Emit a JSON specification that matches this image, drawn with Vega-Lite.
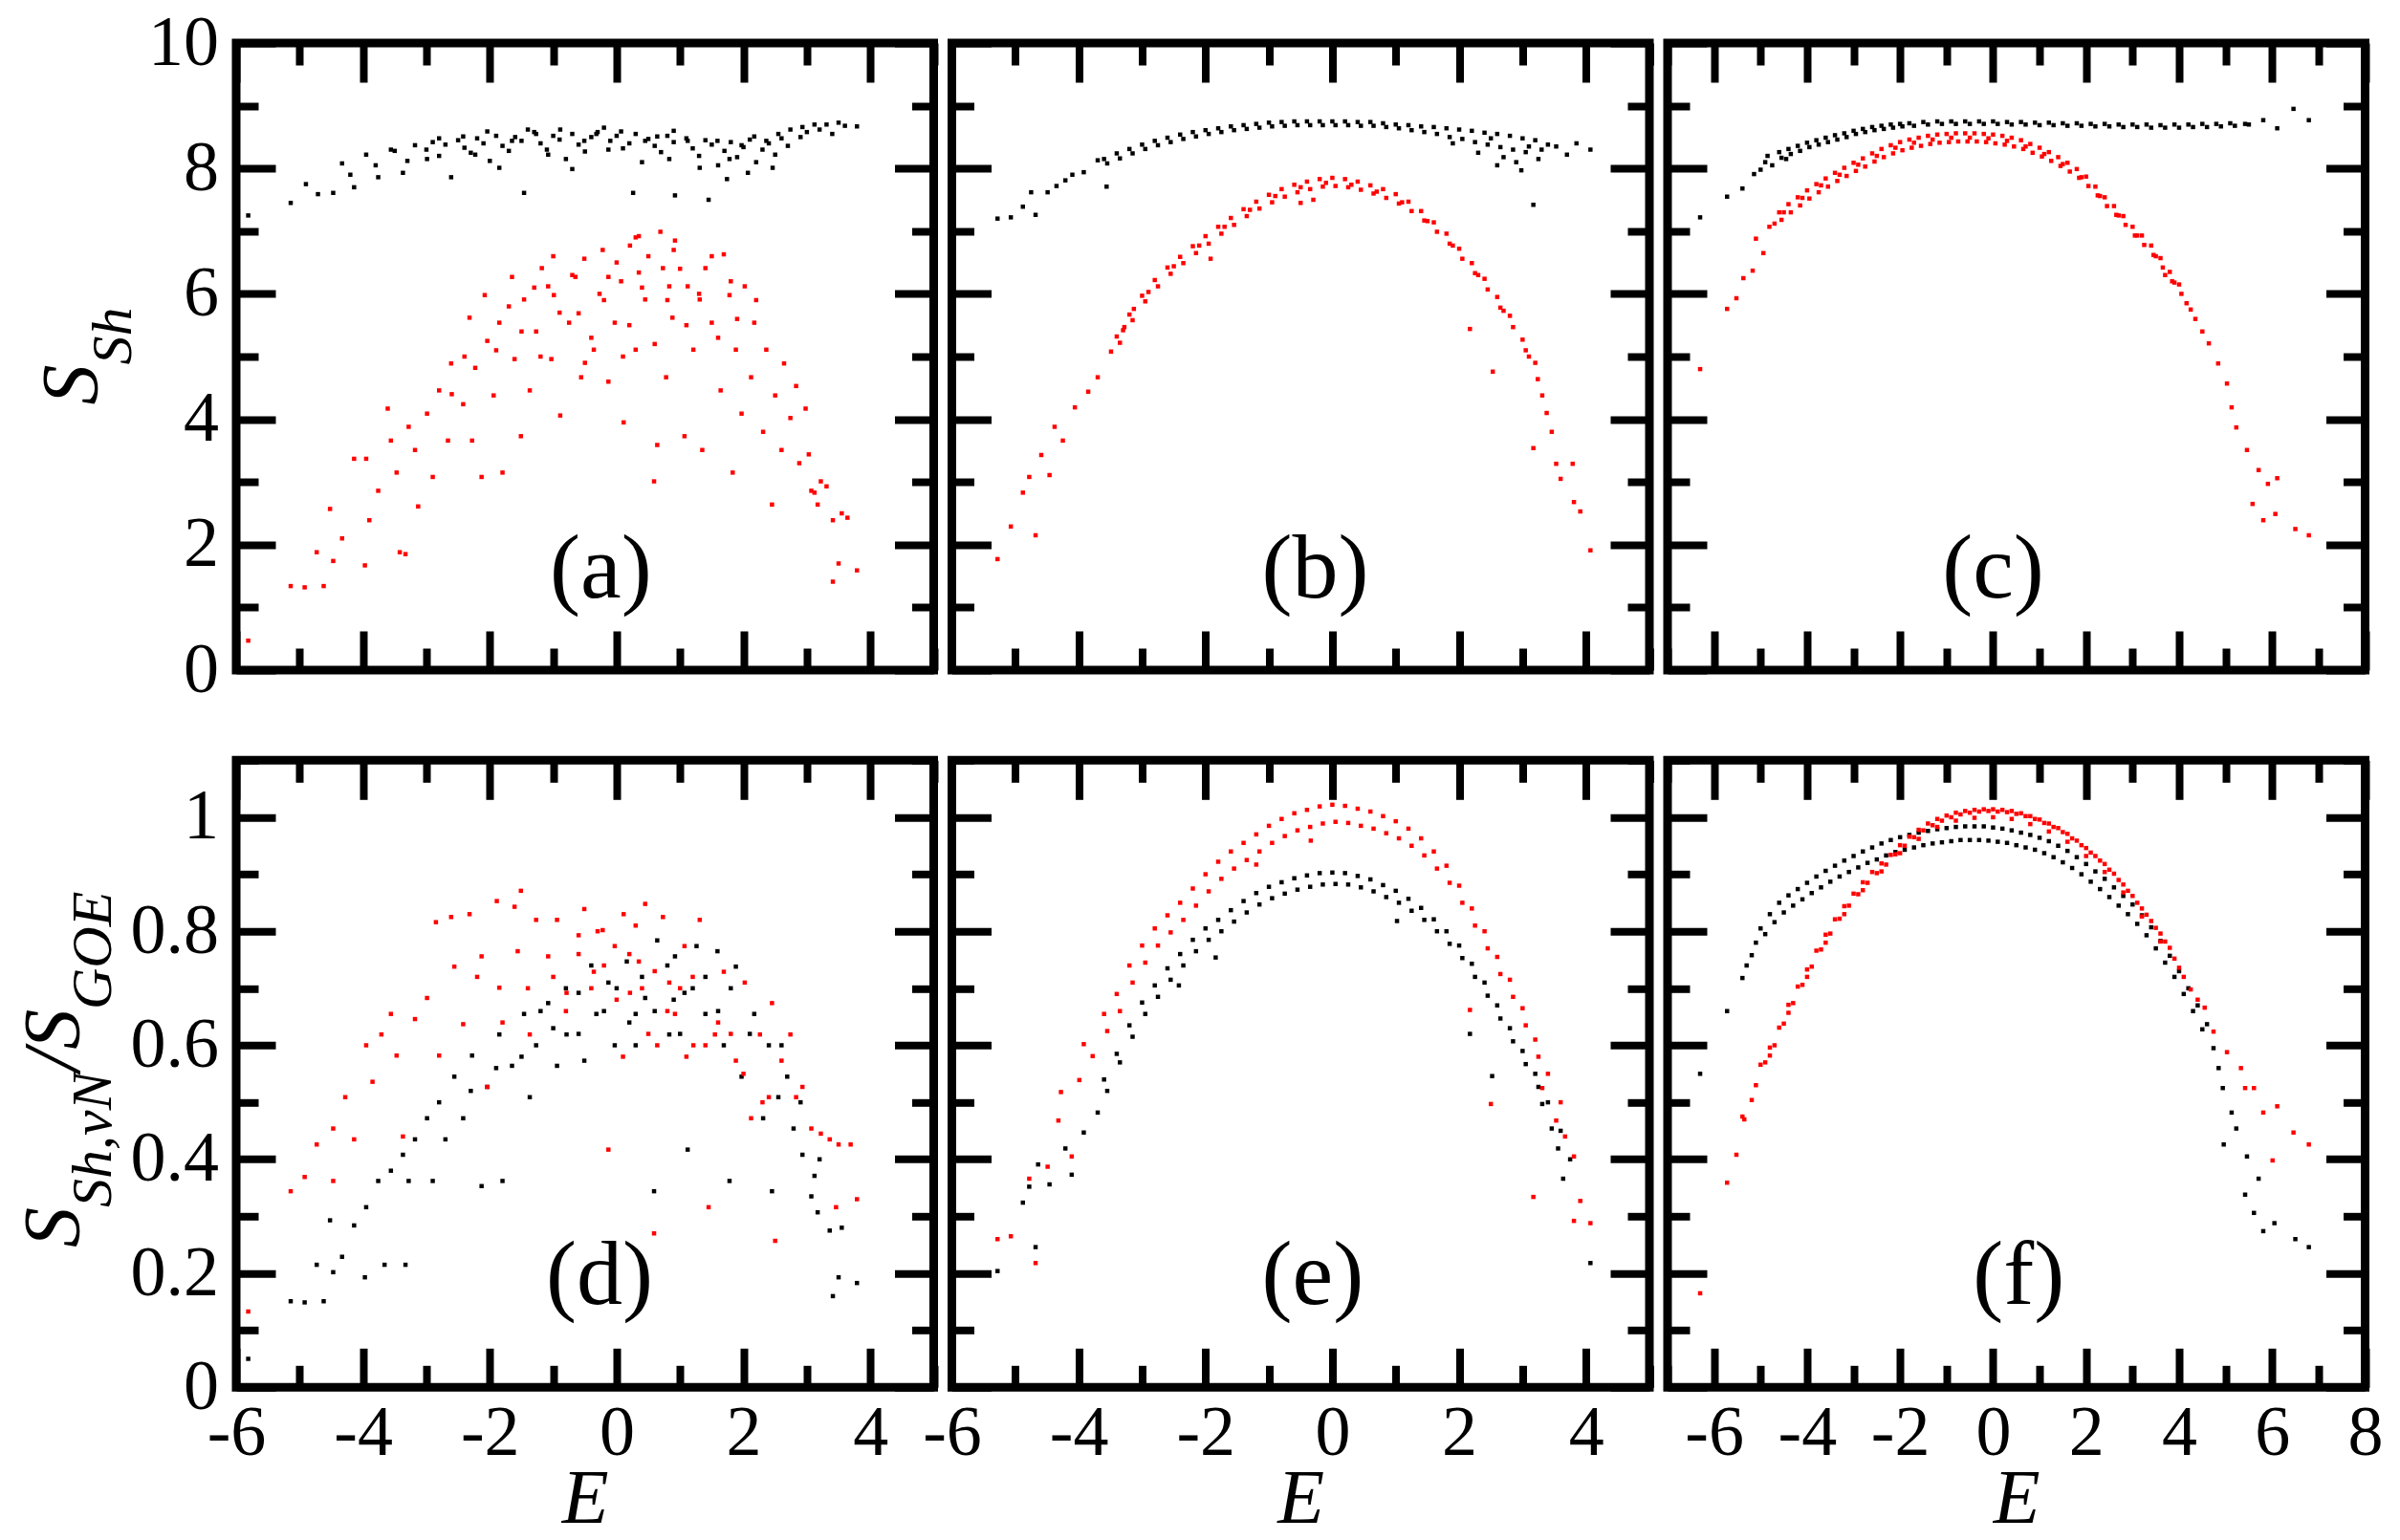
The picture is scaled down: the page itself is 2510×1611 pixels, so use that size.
{
  "$schema": "https://vega.github.io/schema/vega-lite/v6.json",
  "description": "Shannon entropy S_Sh vs energy E, six panels (a)-(f), black and red ensembles.",
  "padding": {"left": 11, "top": 3, "right": 0, "bottom": 0},
  "columns": 3,
  "bounds": "flush",
  "spacing": {"row": 94.3, "column": 18.5},
  "datasets": {
    "a_k": [{"x":-5.81,"y":7.25},{"x":-5.14,"y":7.45},{"x":-4.9,"y":7.75},{"x":-4.71,"y":7.59},{"x":-4.47,"y":7.61},{"x":-4.33,"y":8.08},{"x":-4.14,"y":7.7},{"x":-3.95,"y":8.22},{"x":-3.76,"y":7.86},{"x":-3.56,"y":8.3},{"x":-3.37,"y":7.93},{"x":-3.18,"y":8.37},{"x":-2.99,"y":8.15},{"x":-2.8,"y":8.48},{"x":-2.61,"y":7.86},{"x":-2.42,"y":8.51},{"x":-2.23,"y":8.22},{"x":-2.04,"y":8.59},{"x":-1.85,"y":8.01},{"x":-1.65,"y":8.44},{"x":-1.46,"y":7.61},{"x":-1.27,"y":8.55},{"x":-1.08,"y":8.22},{"x":-0.89,"y":8.62},{"x":-0.7,"y":7.99},{"x":-0.51,"y":8.44},{"x":-0.32,"y":8.55},{"x":-0.13,"y":8.3},{"x":0.07,"y":8.59},{"x":0.26,"y":7.61},{"x":0.45,"y":8.44},{"x":0.64,"y":8.51},{"x":0.83,"y":8.15},{"x":0.92,"y":7.57},{"x":1.12,"y":8.44},{"x":1.31,"y":8.01},{"x":1.45,"y":7.5},{"x":1.59,"y":8.44},{"x":1.78,"y":8.15},{"x":1.97,"y":8.37},{"x":2.17,"y":8.51},{"x":2.36,"y":8.44},{"x":2.55,"y":8.55},{"x":2.74,"y":8.62},{"x":2.93,"y":8.66},{"x":3.12,"y":8.7},{"x":3.31,"y":8.7},{"x":3.5,"y":8.73},{"x":3.79,"y":8.67},{"x":2.46,"y":8.01},{"x":2.07,"y":7.93},{"x":1.74,"y":7.83},{"x":-3.0,"y":8.3},{"x":-2.9,"y":8.42},{"x":-2.7,"y":8.38},{"x":-2.5,"y":8.45},{"x":-2.4,"y":8.33},{"x":-2.2,"y":8.48},{"x":-2.1,"y":8.4},{"x":-1.9,"y":8.52},{"x":-1.8,"y":8.36},{"x":-1.6,"y":8.5},{"x":-1.5,"y":8.44},{"x":-1.3,"y":8.58},{"x":-1.2,"y":8.4},{"x":-1.0,"y":8.52},{"x":-0.9,"y":8.46},{"x":-0.7,"y":8.55},{"x":-0.6,"y":8.38},{"x":-0.4,"y":8.5},{"x":-0.3,"y":8.58},{"x":-0.1,"y":8.44},{"x":0.0,"y":8.52},{"x":0.2,"y":8.4},{"x":0.3,"y":8.55},{"x":0.5,"y":8.47},{"x":0.6,"y":8.36},{"x":0.8,"y":8.52},{"x":0.9,"y":8.42},{"x":1.1,"y":8.48},{"x":1.2,"y":8.32},{"x":1.4,"y":8.45},{"x":1.5,"y":8.38},{"x":1.7,"y":8.28},{"x":1.8,"y":8.42},{"x":2.0,"y":8.34},{"x":2.1,"y":8.46},{"x":2.3,"y":8.3},{"x":2.4,"y":8.4},{"x":2.6,"y":8.48},{"x":2.7,"y":8.36},{"x":2.9,"y":8.5},{"x":3.0,"y":8.58},{"x":3.2,"y":8.62},{"x":-2.8,"y":8.2},{"x":-2.3,"y":8.25},{"x":-1.7,"y":8.28},{"x":-1.1,"y":8.3},{"x":-0.5,"y":8.27},{"x":0.1,"y":8.32},{"x":0.7,"y":8.26},{"x":1.3,"y":8.2},{"x":1.9,"y":8.18},{"x":2.5,"y":8.22},{"x":-3.3,"y":8.12},{"x":-2.0,"y":8.12},{"x":-0.8,"y":8.15},{"x":0.4,"y":8.1},{"x":1.6,"y":8.05},{"x":2.2,"y":8.1},{"x":-1.4,"y":8.62},{"x":-0.2,"y":8.65},{"x":0.9,"y":8.6},{"x":-3.5,"y":8.28},{"x":-3.8,"y":8.05},{"x":-4.2,"y":7.9},{"x":3.4,"y":8.55},{"x":3.6,"y":8.68}],
    "a_r": [{"x":-5.81,"y":0.47},{"x":-5.14,"y":1.34},{"x":-4.92,"y":1.32},{"x":-4.62,"y":1.34},{"x":-4.73,"y":1.88},{"x":-4.47,"y":1.74},{"x":-4.52,"y":2.57},{"x":-4.33,"y":2.1},{"x":-4.14,"y":3.37},{"x":-3.97,"y":1.67},{"x":-3.95,"y":3.37},{"x":-3.9,"y":2.39},{"x":-3.76,"y":2.86},{"x":-3.61,"y":4.17},{"x":-3.56,"y":3.66},{"x":-3.47,"y":3.15},{"x":-3.42,"y":1.88},{"x":-3.33,"y":1.85},{"x":-3.28,"y":3.88},{"x":-3.18,"y":3.51},{"x":-3.13,"y":2.61},{"x":-2.99,"y":4.09},{"x":-2.9,"y":3.08},{"x":-2.8,"y":4.46},{"x":-2.66,"y":3.66},{"x":-2.61,"y":4.89},{"x":-2.42,"y":4.24},{"x":-2.32,"y":5.62},{"x":-2.28,"y":3.66},{"x":-2.23,"y":4.82},{"x":-2.13,"y":3.08},{"x":-2.08,"y":5.98},{"x":-2.04,"y":5.25},{"x":-1.94,"y":4.38},{"x":-1.85,"y":5.54},{"x":-1.8,"y":3.15},{"x":-1.65,"y":6.27},{"x":-1.61,"y":4.96},{"x":-1.51,"y":3.73},{"x":-1.46,"y":5.91},{"x":-1.37,"y":4.46},{"x":-1.27,"y":5.4},{"x":-1.18,"y":6.41},{"x":-1.03,"y":4.96},{"x":-0.99,"y":5.98},{"x":-0.89,"y":4.06},{"x":-0.75,"y":5.54},{"x":-0.65,"y":6.27},{"x":-0.56,"y":4.67},{"x":-0.51,"y":6.56},{"x":-0.36,"y":5.11},{"x":-0.27,"y":6.0},{"x":-0.22,"y":6.7},{"x":-0.13,"y":4.6},{"x":-0.03,"y":5.54},{"x":0.07,"y":6.2},{"x":0.11,"y":3.95},{"x":0.21,"y":6.77},{"x":0.3,"y":5.11},{"x":0.35,"y":6.92},{"x":0.45,"y":5.91},{"x":0.59,"y":3.01},{"x":0.64,"y":3.59},{"x":0.69,"y":6.99},{"x":0.73,"y":6.41},{"x":0.78,"y":4.67},{"x":0.88,"y":5.62},{"x":0.92,"y":6.85},{"x":1.07,"y":3.73},{"x":1.12,"y":6.12},{"x":1.21,"y":5.11},{"x":1.35,"y":3.51},{"x":1.4,"y":6.41},{"x":1.5,"y":5.54},{"x":1.64,"y":4.46},{"x":1.69,"y":6.63},{"x":1.78,"y":5.98},{"x":1.83,"y":3.15},{"x":1.88,"y":5.11},{"x":1.97,"y":4.09},{"x":2.02,"y":6.12},{"x":2.12,"y":4.67},{"x":2.17,"y":5.54},{"x":2.31,"y":3.8},{"x":2.36,"y":5.11},{"x":2.45,"y":2.64},{"x":2.5,"y":4.38},{"x":2.6,"y":3.51},{"x":2.64,"y":4.89},{"x":2.74,"y":4.02},{"x":2.83,"y":4.53},{"x":2.88,"y":3.3},{"x":2.98,"y":4.17},{"x":3.03,"y":3.44},{"x":3.07,"y":2.86},{"x":3.17,"y":2.64},{"x":3.22,"y":3.01},{"x":3.31,"y":2.93},{"x":3.41,"y":2.39},{"x":3.55,"y":2.5},{"x":3.64,"y":2.43},{"x":3.41,"y":1.41},{"x":3.5,"y":1.7},{"x":3.79,"y":1.59},{"x":3.12,"y":2.83},{"x":-1.08,"y":6.12},{"x":-0.6,"y":5.69},{"x":-0.13,"y":6.27},{"x":0.35,"y":6.34},{"x":0.83,"y":6.12},{"x":1.31,"y":5.91},{"x":-1.5,"y":5.4},{"x":-1.2,"y":5.0},{"x":-0.9,"y":5.7},{"x":-0.7,"y":6.3},{"x":-0.4,"y":5.3},{"x":-0.2,"y":5.9},{"x":0.0,"y":6.5},{"x":0.2,"y":5.5},{"x":0.4,"y":6.1},{"x":0.5,"y":6.6},{"x":0.6,"y":5.2},{"x":0.8,"y":5.9},{"x":1.0,"y":6.4},{"x":1.1,"y":5.5},{"x":1.3,"y":6.0},{"x":1.5,"y":6.6},{"x":1.6,"y":5.3},{"x":1.8,"y":6.2},{"x":-1.9,"y":5.1},{"x":-1.7,"y":5.8},{"x":-2.4,"y":5.0},{"x":-2.6,"y":4.4},{"x":-1.0,"y":6.6},{"x":0.3,"y":6.9},{"x":0.9,"y":6.7},{"x":-0.5,"y":4.9},{"x":0.1,"y":5.0},{"x":1.9,"y":5.6},{"x":2.2,"y":5.9},{"x":-1.3,"y":6.1}],
    "b_k": [{"x":-5.28,"y":7.2},{"x":-5.07,"y":7.22},{"x":-4.68,"y":7.26},{"x":-4.88,"y":7.39},{"x":-4.75,"y":7.62},{"x":-4.49,"y":7.62},{"x":-4.21,"y":7.81},{"x":-3.92,"y":7.94},{"x":-3.56,"y":7.71},{"x":-3.7,"y":8.13},{"x":-4.1,"y":7.9},{"x":-4.35,"y":7.72},{"x":-3.6,"y":8.15},{"x":-3.55,"y":8.08},{"x":-3.4,"y":8.24},{"x":-3.35,"y":8.16},{"x":-3.2,"y":8.31},{"x":-3.15,"y":8.24},{"x":-3.0,"y":8.38},{"x":-2.95,"y":8.31},{"x":-2.8,"y":8.44},{"x":-2.75,"y":8.37},{"x":-2.6,"y":8.49},{"x":-2.55,"y":8.42},{"x":-2.4,"y":8.54},{"x":-2.35,"y":8.47},{"x":-2.2,"y":8.58},{"x":-2.15,"y":8.51},{"x":-2.0,"y":8.61},{"x":-1.95,"y":8.55},{"x":-1.8,"y":8.64},{"x":-1.75,"y":8.58},{"x":-1.6,"y":8.67},{"x":-1.55,"y":8.61},{"x":-1.4,"y":8.69},{"x":-1.35,"y":8.63},{"x":-1.2,"y":8.71},{"x":-1.15,"y":8.65},{"x":-1.0,"y":8.73},{"x":-0.95,"y":8.67},{"x":-0.8,"y":8.74},{"x":-0.75,"y":8.68},{"x":-0.6,"y":8.75},{"x":-0.55,"y":8.69},{"x":-0.4,"y":8.75},{"x":-0.35,"y":8.69},{"x":-0.2,"y":8.75},{"x":-0.15,"y":8.69},{"x":0.0,"y":8.75},{"x":0.05,"y":8.69},{"x":0.2,"y":8.75},{"x":0.25,"y":8.69},{"x":0.4,"y":8.74},{"x":0.45,"y":8.68},{"x":0.6,"y":8.74},{"x":0.65,"y":8.68},{"x":0.8,"y":8.72},{"x":0.85,"y":8.66},{"x":1.0,"y":8.7},{"x":1.05,"y":8.64},{"x":1.2,"y":8.69},{"x":1.25,"y":8.61},{"x":1.4,"y":8.67},{"x":1.45,"y":8.58},{"x":1.6,"y":8.66},{"x":1.65,"y":8.55},{"x":1.8,"y":8.64},{"x":1.85,"y":8.5},{"x":2.0,"y":8.62},{"x":2.05,"y":8.47},{"x":2.2,"y":8.6},{"x":2.25,"y":8.42},{"x":2.4,"y":8.57},{"x":2.45,"y":8.38},{"x":2.6,"y":8.55},{"x":2.65,"y":8.34},{"x":2.8,"y":8.52},{"x":2.85,"y":8.3},{"x":3.0,"y":8.48},{"x":3.05,"y":8.26},{"x":3.2,"y":8.45},{"x":3.3,"y":8.3},{"x":2.3,"y":8.25},{"x":2.7,"y":8.18},{"x":2.9,"y":8.1},{"x":3.1,"y":8.35},{"x":1.9,"y":8.4},{"x":2.5,"y":8.48},{"x":3.4,"y":8.38},{"x":3.53,"y":8.35},{"x":4.07,"y":8.3},{"x":3.17,"y":7.42},{"x":2.98,"y":7.97},{"x":3.7,"y":8.22},{"x":3.85,"y":8.4},{"x":2.6,"y":8.05},{"x":3.25,"y":8.15}],
    "b_r": [{"x":-5.28,"y":1.77},{"x":-5.07,"y":2.29},{"x":-4.68,"y":2.15},{"x":-4.88,"y":2.83},{"x":-4.78,"y":3.08},{"x":-4.46,"y":3.11},{"x":-4.59,"y":3.43},{"x":-4.25,"y":3.66},{"x":-4.38,"y":3.88},{"x":-4.06,"y":4.19},{"x":-3.85,"y":4.44},{"x":-3.7,"y":4.67},{"x":-3.49,"y":5.08},{"x":-3.28,"y":5.47},{"x":-3.13,"y":5.76},{"x":-1.92,"y":6.56},{"x":-3.4,"y":5.32},{"x":-3.35,"y":5.22},{"x":-3.2,"y":5.67},{"x":-3.15,"y":5.58},{"x":-3.0,"y":5.97},{"x":-2.95,"y":5.88},{"x":-2.8,"y":6.22},{"x":-2.75,"y":6.12},{"x":-2.6,"y":6.42},{"x":-2.55,"y":6.32},{"x":-2.4,"y":6.59},{"x":-2.35,"y":6.49},{"x":-2.2,"y":6.76},{"x":-2.15,"y":6.65},{"x":-2.0,"y":6.92},{"x":-1.95,"y":6.8},{"x":-1.8,"y":7.07},{"x":-1.75,"y":6.96},{"x":-1.6,"y":7.21},{"x":-1.55,"y":7.1},{"x":-1.4,"y":7.35},{"x":-1.35,"y":7.24},{"x":-1.2,"y":7.47},{"x":-1.15,"y":7.36},{"x":-1.0,"y":7.58},{"x":-0.95,"y":7.46},{"x":-0.8,"y":7.67},{"x":-0.75,"y":7.55},{"x":-0.6,"y":7.74},{"x":-0.55,"y":7.62},{"x":-0.4,"y":7.79},{"x":-0.35,"y":7.67},{"x":-0.2,"y":7.83},{"x":-0.15,"y":7.71},{"x":0.0,"y":7.85},{"x":0.05,"y":7.72},{"x":0.2,"y":7.83},{"x":0.25,"y":7.7},{"x":0.4,"y":7.79},{"x":0.45,"y":7.66},{"x":0.6,"y":7.73},{"x":0.65,"y":7.6},{"x":0.8,"y":7.67},{"x":0.85,"y":7.53},{"x":1.0,"y":7.59},{"x":1.05,"y":7.44},{"x":1.2,"y":7.47},{"x":1.25,"y":7.32},{"x":1.4,"y":7.32},{"x":1.45,"y":7.17},{"x":1.6,"y":7.14},{"x":1.65,"y":6.99},{"x":1.8,"y":6.96},{"x":1.85,"y":6.8},{"x":2.0,"y":6.72},{"x":2.05,"y":6.56},{"x":2.2,"y":6.49},{"x":2.25,"y":6.33},{"x":2.4,"y":6.24},{"x":2.45,"y":6.07},{"x":2.6,"y":5.95},{"x":2.65,"y":5.78},{"x":2.8,"y":5.65},{"x":2.85,"y":5.47},{"x":3.0,"y":5.27},{"x":3.05,"y":5.1},{"x":-3.3,"y":5.42},{"x":-2.9,"y":6.03},{"x":-2.5,"y":6.44},{"x":-2.1,"y":6.77},{"x":-1.7,"y":7.07},{"x":-1.3,"y":7.34},{"x":-0.9,"y":7.56},{"x":-0.5,"y":7.7},{"x":-0.1,"y":7.77},{"x":0.3,"y":7.74},{"x":0.7,"y":7.63},{"x":1.1,"y":7.46},{"x":1.5,"y":7.16},{"x":1.9,"y":6.77},{"x":2.3,"y":6.3},{"x":2.7,"y":5.73},{"x":3.1,"y":5.0},{"x":3.24,"y":4.64},{"x":3.31,"y":4.38},{"x":3.46,"y":3.8},{"x":3.53,"y":3.29},{"x":3.79,"y":3.29},{"x":3.81,"y":2.68},{"x":3.91,"y":2.53},{"x":4.07,"y":1.91},{"x":2.53,"y":4.76},{"x":2.17,"y":5.44},{"x":3.17,"y":3.54},{"x":3.38,"y":4.1},{"x":3.2,"y":4.9},{"x":3.6,"y":3.05},{"x":-0.5,"y":7.45},{"x":-0.3,"y":7.5}],
    "c_k": [{"x":-6.3,"y":7.22},{"x":-5.72,"y":7.55},{"x":-5.39,"y":7.68},{"x":-5.14,"y":7.91},{"x":-4.9,"y":8.1},{"x":-5.0,"y":7.98},{"x":-4.75,"y":8.05},{"x":-4.6,"y":8.26},{"x":-4.55,"y":8.17},{"x":-4.4,"y":8.31},{"x":-4.35,"y":8.23},{"x":-4.2,"y":8.36},{"x":-4.15,"y":8.28},{"x":-4.0,"y":8.41},{"x":-3.95,"y":8.34},{"x":-3.8,"y":8.45},{"x":-3.75,"y":8.38},{"x":-3.6,"y":8.49},{"x":-3.55,"y":8.42},{"x":-3.4,"y":8.53},{"x":-3.35,"y":8.46},{"x":-3.2,"y":8.56},{"x":-3.15,"y":8.5},{"x":-3.0,"y":8.6},{"x":-2.95,"y":8.55},{"x":-2.8,"y":8.63},{"x":-2.75,"y":8.58},{"x":-2.6,"y":8.66},{"x":-2.55,"y":8.61},{"x":-2.4,"y":8.68},{"x":-2.35,"y":8.63},{"x":-2.2,"y":8.7},{"x":-2.15,"y":8.65},{"x":-2.0,"y":8.71},{"x":-1.95,"y":8.67},{"x":-1.8,"y":8.72},{"x":-1.7,"y":8.68},{"x":-1.5,"y":8.74},{"x":-1.4,"y":8.7},{"x":-1.2,"y":8.75},{"x":-1.1,"y":8.71},{"x":-0.9,"y":8.75},{"x":-0.8,"y":8.71},{"x":-0.6,"y":8.75},{"x":-0.5,"y":8.71},{"x":-0.3,"y":8.75},{"x":-0.2,"y":8.71},{"x":0.0,"y":8.75},{"x":0.1,"y":8.71},{"x":0.3,"y":8.74},{"x":0.4,"y":8.7},{"x":0.6,"y":8.74},{"x":0.7,"y":8.7},{"x":0.9,"y":8.73},{"x":1.0,"y":8.69},{"x":1.2,"y":8.73},{"x":1.3,"y":8.69},{"x":1.5,"y":8.72},{"x":1.6,"y":8.68},{"x":1.8,"y":8.72},{"x":1.9,"y":8.68},{"x":2.1,"y":8.71},{"x":2.2,"y":8.67},{"x":2.4,"y":8.71},{"x":2.5,"y":8.67},{"x":2.7,"y":8.7},{"x":2.8,"y":8.66},{"x":3.0,"y":8.7},{"x":3.1,"y":8.66},{"x":3.3,"y":8.7},{"x":3.4,"y":8.65},{"x":3.6,"y":8.69},{"x":3.7,"y":8.65},{"x":3.9,"y":8.7},{"x":4.0,"y":8.65},{"x":4.2,"y":8.7},{"x":4.3,"y":8.66},{"x":4.5,"y":8.71},{"x":4.6,"y":8.66},{"x":4.8,"y":8.71},{"x":4.9,"y":8.67},{"x":5.1,"y":8.72},{"x":5.2,"y":8.68},{"x":5.42,"y":8.71},{"x":5.5,"y":8.7},{"x":5.81,"y":8.77},{"x":6.11,"y":8.64},{"x":6.46,"y":8.95},{"x":6.79,"y":8.77},{"x":-4.85,"y":8.2},{"x":-4.45,"y":8.15}],
    "c_r": [{"x":-6.3,"y":4.8},{"x":-5.72,"y":5.76},{"x":-5.52,"y":5.93},{"x":-5.37,"y":6.25},{"x":-5.17,"y":6.37},{"x":-5.1,"y":6.88},{"x":-4.94,"y":6.65},{"x":-4.81,"y":7.07},{"x":-4.7,"y":7.12},{"x":-4.6,"y":7.3},{"x":-4.55,"y":7.18},{"x":-4.4,"y":7.43},{"x":-4.35,"y":7.3},{"x":-4.2,"y":7.54},{"x":-4.15,"y":7.41},{"x":-4.0,"y":7.65},{"x":-3.95,"y":7.52},{"x":-3.8,"y":7.75},{"x":-3.75,"y":7.62},{"x":-3.6,"y":7.84},{"x":-3.55,"y":7.71},{"x":-3.4,"y":7.93},{"x":-3.35,"y":7.8},{"x":-3.2,"y":8.01},{"x":-3.15,"y":7.88},{"x":-3.0,"y":8.09},{"x":-2.95,"y":7.96},{"x":-2.8,"y":8.16},{"x":-2.75,"y":8.03},{"x":-2.6,"y":8.24},{"x":-2.55,"y":8.11},{"x":-2.4,"y":8.31},{"x":-2.35,"y":8.18},{"x":-2.2,"y":8.37},{"x":-2.15,"y":8.24},{"x":-2.0,"y":8.42},{"x":-1.95,"y":8.29},{"x":-1.8,"y":8.46},{"x":-1.75,"y":8.33},{"x":-1.6,"y":8.49},{"x":-1.55,"y":8.36},{"x":-1.4,"y":8.52},{"x":-1.35,"y":8.39},{"x":-1.2,"y":8.54},{"x":-1.15,"y":8.41},{"x":-1.0,"y":8.55},{"x":-0.95,"y":8.42},{"x":-0.8,"y":8.56},{"x":-0.75,"y":8.43},{"x":-0.6,"y":8.56},{"x":-0.55,"y":8.43},{"x":-0.4,"y":8.56},{"x":-0.35,"y":8.43},{"x":-0.2,"y":8.55},{"x":-0.15,"y":8.42},{"x":0.0,"y":8.54},{"x":0.05,"y":8.4},{"x":0.2,"y":8.52},{"x":0.25,"y":8.38},{"x":0.4,"y":8.49},{"x":0.45,"y":8.35},{"x":0.6,"y":8.45},{"x":0.65,"y":8.31},{"x":0.8,"y":8.39},{"x":0.85,"y":8.25},{"x":1.0,"y":8.33},{"x":1.05,"y":8.19},{"x":1.2,"y":8.26},{"x":1.25,"y":8.12},{"x":1.4,"y":8.18},{"x":1.45,"y":8.04},{"x":1.6,"y":8.09},{"x":1.65,"y":7.95},{"x":1.8,"y":7.99},{"x":1.85,"y":7.85},{"x":2.0,"y":7.87},{"x":2.05,"y":7.72},{"x":2.2,"y":7.71},{"x":2.25,"y":7.57},{"x":2.4,"y":7.54},{"x":2.45,"y":7.4},{"x":2.6,"y":7.4},{"x":2.65,"y":7.26},{"x":2.8,"y":7.24},{"x":2.85,"y":7.1},{"x":3.0,"y":7.07},{"x":3.05,"y":6.93},{"x":3.2,"y":6.93},{"x":3.25,"y":6.78},{"x":3.4,"y":6.77},{"x":3.45,"y":6.62},{"x":3.6,"y":6.57},{"x":3.65,"y":6.42},{"x":3.8,"y":6.35},{"x":3.85,"y":6.2},{"x":4.0,"y":6.15},{"x":4.05,"y":6.0},{"x":-4.5,"y":7.3},{"x":-4.1,"y":7.53},{"x":-3.7,"y":7.73},{"x":-3.3,"y":7.9},{"x":-2.9,"y":8.06},{"x":-2.5,"y":8.2},{"x":-2.1,"y":8.33},{"x":-1.7,"y":8.41},{"x":-1.3,"y":8.46},{"x":-0.9,"y":8.49},{"x":-0.5,"y":8.49},{"x":-0.1,"y":8.48},{"x":0.3,"y":8.44},{"x":0.7,"y":8.35},{"x":1.1,"y":8.23},{"x":1.5,"y":8.07},{"x":1.9,"y":7.86},{"x":2.3,"y":7.56},{"x":2.7,"y":7.25},{"x":3.1,"y":6.93},{"x":3.5,"y":6.6},{"x":3.9,"y":6.18},{"x":4.16,"y":5.85},{"x":4.35,"y":5.6},{"x":4.25,"y":5.75},{"x":4.64,"y":5.21},{"x":4.84,"y":4.89},{"x":5.03,"y":4.57},{"x":5.13,"y":4.19},{"x":5.23,"y":3.87},{"x":5.46,"y":3.51},{"x":5.71,"y":3.19},{"x":5.91,"y":2.97},{"x":6.11,"y":3.06},{"x":5.58,"y":2.65},{"x":6.07,"y":2.49},{"x":5.81,"y":2.39},{"x":6.5,"y":2.25},{"x":6.79,"y":2.15},{"x":4.5,"y":5.4},{"x":3.7,"y":6.3}],
    "d_k": [{"x":-5.81,"y":0.05},{"x":-5.14,"y":0.151},{"x":-4.92,"y":0.149},{"x":-4.62,"y":0.151},{"x":-4.73,"y":0.215},{"x":-4.47,"y":0.202},{"x":-4.52,"y":0.293},{"x":-4.33,"y":0.229},{"x":-4.14,"y":0.284},{"x":-3.97,"y":0.193},{"x":-3.95,"y":0.316},{"x":-3.76,"y":0.362},{"x":-3.66,"y":0.215},{"x":-3.56,"y":0.38},{"x":-3.37,"y":0.408},{"x":-3.33,"y":0.215},{"x":-3.28,"y":0.362},{"x":-3.18,"y":0.435},{"x":-2.99,"y":0.472},{"x":-2.9,"y":0.362},{"x":-2.8,"y":0.5},{"x":-2.7,"y":0.435},{"x":-2.56,"y":0.545},{"x":-2.42,"y":0.472},{"x":-2.28,"y":0.582},{"x":-2.13,"y":0.353},{"x":-2.04,"y":0.527},{"x":-1.85,"y":0.619},{"x":-1.8,"y":0.362},{"x":-1.65,"y":0.564},{"x":-1.46,"y":0.655},{"x":-1.37,"y":0.509},{"x":-1.27,"y":0.6},{"x":-1.08,"y":0.674},{"x":-0.94,"y":0.564},{"x":-0.79,"y":0.619},{"x":-0.6,"y":0.692},{"x":-0.51,"y":0.573},{"x":-0.32,"y":0.655},{"x":-0.13,"y":0.71},{"x":-0.03,"y":0.6},{"x":0.16,"y":0.747},{"x":0.3,"y":0.655},{"x":0.45,"y":0.683},{"x":0.59,"y":0.344},{"x":0.64,"y":0.784},{"x":0.83,"y":0.619},{"x":0.92,"y":0.756},{"x":1.07,"y":0.692},{"x":1.12,"y":0.417},{"x":1.26,"y":0.774},{"x":1.4,"y":0.655},{"x":1.59,"y":0.765},{"x":1.69,"y":0.6},{"x":1.78,"y":0.362},{"x":1.88,"y":0.738},{"x":1.97,"y":0.545},{"x":2.17,"y":0.655},{"x":2.31,"y":0.472},{"x":2.4,"y":0.6},{"x":2.45,"y":0.344},{"x":2.55,"y":0.509},{"x":2.69,"y":0.545},{"x":2.79,"y":0.454},{"x":2.93,"y":0.408},{"x":3.07,"y":0.335},{"x":3.17,"y":0.307},{"x":3.36,"y":0.275},{"x":3.55,"y":0.28},{"x":3.41,"y":0.16},{"x":3.5,"y":0.193},{"x":3.79,"y":0.183},{"x":3.12,"y":0.371},{"x":-1.0,"y":0.63},{"x":-0.8,"y":0.7},{"x":-0.6,"y":0.62},{"x":-0.4,"y":0.74},{"x":-0.2,"y":0.66},{"x":0.0,"y":0.7},{"x":0.2,"y":0.64},{"x":0.4,"y":0.72},{"x":0.6,"y":0.66},{"x":0.8,"y":0.74},{"x":1.0,"y":0.62},{"x":1.2,"y":0.7},{"x":1.4,"y":0.72},{"x":1.6,"y":0.66},{"x":-1.5,"y":0.58},{"x":-1.2,"y":0.66},{"x":0.3,"y":0.6},{"x":0.9,"y":0.68},{"x":1.8,"y":0.7},{"x":2.1,"y":0.62},{"x":-2.3,"y":0.52},{"x":-1.9,"y":0.56},{"x":2.6,"y":0.6},{"x":2.9,"y":0.5},{"x":3.2,"y":0.4}],
    "d_r": [{"x":-5.81,"y":0.133},{"x":-5.14,"y":0.344},{"x":-4.92,"y":0.369},{"x":-4.73,"y":0.426},{"x":-4.47,"y":0.362},{"x":-4.47,"y":0.454},{"x":-4.28,"y":0.509},{"x":-4.14,"y":0.435},{"x":-3.95,"y":0.6},{"x":-3.85,"y":0.536},{"x":-3.71,"y":0.619},{"x":-3.56,"y":0.655},{"x":-3.47,"y":0.582},{"x":-3.37,"y":0.44},{"x":-3.18,"y":0.646},{"x":-2.99,"y":0.683},{"x":-2.85,"y":0.816},{"x":-2.8,"y":0.582},{"x":-2.61,"y":0.825},{"x":-2.56,"y":0.738},{"x":-2.42,"y":0.637},{"x":-2.32,"y":0.83},{"x":-2.13,"y":0.756},{"x":-2.04,"y":0.527},{"x":-1.89,"y":0.853},{"x":-1.85,"y":0.701},{"x":-1.61,"y":0.843},{"x":-1.56,"y":0.765},{"x":-1.51,"y":0.871},{"x":-1.37,"y":0.619},{"x":-1.27,"y":0.82},{"x":-1.08,"y":0.756},{"x":-0.94,"y":0.82},{"x":-0.79,"y":0.692},{"x":-0.6,"y":0.793},{"x":-0.51,"y":0.839},{"x":-0.36,"y":0.729},{"x":-0.22,"y":0.802},{"x":-0.13,"y":0.417},{"x":-0.03,"y":0.774},{"x":0.11,"y":0.83},{"x":0.21,"y":0.692},{"x":0.35,"y":0.747},{"x":0.45,"y":0.848},{"x":0.59,"y":0.27},{"x":0.64,"y":0.6},{"x":0.73,"y":0.825},{"x":0.83,"y":0.71},{"x":0.92,"y":0.655},{"x":1.07,"y":0.774},{"x":1.21,"y":0.6},{"x":1.31,"y":0.82},{"x":1.45,"y":0.316},{"x":1.55,"y":0.619},{"x":1.69,"y":0.729},{"x":1.88,"y":0.573},{"x":2.02,"y":0.71},{"x":2.12,"y":0.472},{"x":2.26,"y":0.619},{"x":2.4,"y":0.509},{"x":2.45,"y":0.674},{"x":2.5,"y":0.257},{"x":2.6,"y":0.573},{"x":2.74,"y":0.619},{"x":2.83,"y":0.509},{"x":2.93,"y":0.527},{"x":3.07,"y":0.454},{"x":3.22,"y":0.445},{"x":3.36,"y":0.435},{"x":3.5,"y":0.426},{"x":3.69,"y":0.426},{"x":3.79,"y":0.33},{"x":3.46,"y":0.316},{"x":-1.0,"y":0.72},{"x":-0.8,"y":0.66},{"x":-0.6,"y":0.76},{"x":-0.4,"y":0.7},{"x":-0.2,"y":0.74},{"x":0.0,"y":0.68},{"x":0.2,"y":0.76},{"x":0.4,"y":0.7},{"x":0.6,"y":0.73},{"x":0.8,"y":0.66},{"x":1.0,"y":0.7},{"x":1.2,"y":0.72},{"x":1.4,"y":0.6},{"x":1.6,"y":0.64},{"x":1.8,"y":0.62},{"x":-1.4,"y":0.7},{"x":-1.8,"y":0.64},{"x":-2.2,"y":0.72},{"x":0.1,"y":0.58},{"x":0.5,"y":0.62},{"x":1.1,"y":0.58},{"x":2.0,"y":0.55},{"x":2.3,"y":0.5},{"x":-0.3,"y":0.8},{"x":0.3,"y":0.81}],
    "e_k": [{"x":-5.28,"y":0.204},{"x":-4.68,"y":0.246},{"x":-4.88,"y":0.324},{"x":-4.78,"y":0.352},{"x":-4.64,"y":0.391},{"x":-4.46,"y":0.356},{"x":-4.21,"y":0.419},{"x":-4.11,"y":0.373},{"x":-3.92,"y":0.447},{"x":-3.7,"y":0.482},{"x":-3.6,"y":0.54},{"x":-3.55,"y":0.52},{"x":-3.4,"y":0.585},{"x":-3.35,"y":0.57},{"x":-3.2,"y":0.635},{"x":-3.15,"y":0.615},{"x":-3.0,"y":0.675},{"x":-2.95,"y":0.655},{"x":-2.8,"y":0.705},{"x":-2.75,"y":0.685},{"x":-2.6,"y":0.735},{"x":-2.55,"y":0.715},{"x":-2.4,"y":0.76},{"x":-2.35,"y":0.74},{"x":-2.2,"y":0.785},{"x":-2.15,"y":0.765},{"x":-2.0,"y":0.805},{"x":-1.95,"y":0.785},{"x":-1.8,"y":0.82},{"x":-1.75,"y":0.8},{"x":-1.6,"y":0.837},{"x":-1.55,"y":0.817},{"x":-1.4,"y":0.853},{"x":-1.35,"y":0.833},{"x":-1.2,"y":0.867},{"x":-1.15,"y":0.847},{"x":-1.0,"y":0.878},{"x":-0.95,"y":0.858},{"x":-0.8,"y":0.886},{"x":-0.75,"y":0.866},{"x":-0.6,"y":0.893},{"x":-0.55,"y":0.873},{"x":-0.4,"y":0.898},{"x":-0.35,"y":0.878},{"x":-0.2,"y":0.902},{"x":-0.15,"y":0.882},{"x":0.0,"y":0.903},{"x":0.05,"y":0.883},{"x":0.2,"y":0.902},{"x":0.25,"y":0.882},{"x":0.4,"y":0.897},{"x":0.45,"y":0.877},{"x":0.6,"y":0.891},{"x":0.65,"y":0.87},{"x":0.8,"y":0.881},{"x":0.85,"y":0.86},{"x":1.0,"y":0.871},{"x":1.05,"y":0.85},{"x":1.2,"y":0.857},{"x":1.25,"y":0.836},{"x":1.4,"y":0.841},{"x":1.45,"y":0.82},{"x":1.6,"y":0.821},{"x":1.65,"y":0.8},{"x":1.8,"y":0.8},{"x":1.85,"y":0.778},{"x":2.0,"y":0.775},{"x":2.05,"y":0.753},{"x":2.2,"y":0.743},{"x":2.25,"y":0.72},{"x":2.4,"y":0.71},{"x":2.45,"y":0.687},{"x":2.6,"y":0.67},{"x":2.65,"y":0.647},{"x":2.8,"y":0.63},{"x":2.85,"y":0.607},{"x":3.0,"y":0.59},{"x":3.05,"y":0.567},{"x":3.2,"y":0.55},{"x":3.25,"y":0.527},{"x":3.31,"y":0.497},{"x":3.46,"y":0.454},{"x":3.56,"y":0.419},{"x":3.64,"y":0.366},{"x":4.07,"y":0.218},{"x":-2.42,"y":0.705},{"x":-1.84,"y":0.754},{"x":2.17,"y":0.62},{"x":2.52,"y":0.546},{"x":1.02,"y":0.818},{"x":3.4,"y":0.5},{"x":3.6,"y":0.45},{"x":3.75,"y":0.4}],
    "e_r": [{"x":-5.28,"y":0.26},{"x":-5.07,"y":0.265},{"x":-4.68,"y":0.218},{"x":-4.78,"y":0.366},{"x":-4.49,"y":0.387},{"x":-4.32,"y":0.468},{"x":-4.11,"y":0.405},{"x":-3.99,"y":0.539},{"x":-3.78,"y":0.581},{"x":-4.28,"y":0.518},{"x":-3.92,"y":0.602},{"x":-3.6,"y":0.655},{"x":-3.55,"y":0.625},{"x":-3.4,"y":0.69},{"x":-3.35,"y":0.66},{"x":-3.2,"y":0.74},{"x":-3.15,"y":0.71},{"x":-3.0,"y":0.775},{"x":-2.95,"y":0.745},{"x":-2.8,"y":0.805},{"x":-2.75,"y":0.775},{"x":-2.6,"y":0.828},{"x":-2.55,"y":0.798},{"x":-2.4,"y":0.85},{"x":-2.35,"y":0.82},{"x":-2.2,"y":0.875},{"x":-2.15,"y":0.845},{"x":-2.0,"y":0.9},{"x":-1.95,"y":0.87},{"x":-1.8,"y":0.922},{"x":-1.75,"y":0.892},{"x":-1.6,"y":0.94},{"x":-1.55,"y":0.91},{"x":-1.4,"y":0.955},{"x":-1.35,"y":0.925},{"x":-1.2,"y":0.97},{"x":-1.15,"y":0.94},{"x":-1.0,"y":0.985},{"x":-0.95,"y":0.955},{"x":-0.8,"y":0.997},{"x":-0.75,"y":0.967},{"x":-0.6,"y":1.007},{"x":-0.55,"y":0.977},{"x":-0.4,"y":1.013},{"x":-0.35,"y":0.983},{"x":-0.2,"y":1.019},{"x":-0.15,"y":0.989},{"x":0.0,"y":1.022},{"x":0.05,"y":0.992},{"x":0.2,"y":1.02},{"x":0.25,"y":0.99},{"x":0.4,"y":1.015},{"x":0.45,"y":0.985},{"x":0.6,"y":1.01},{"x":0.65,"y":0.98},{"x":0.8,"y":1.002},{"x":0.85,"y":0.972},{"x":1.0,"y":0.993},{"x":1.05,"y":0.963},{"x":1.2,"y":0.98},{"x":1.25,"y":0.95},{"x":1.4,"y":0.963},{"x":1.45,"y":0.933},{"x":1.6,"y":0.94},{"x":1.65,"y":0.91},{"x":1.8,"y":0.915},{"x":1.85,"y":0.885},{"x":2.0,"y":0.88},{"x":2.05,"y":0.85},{"x":2.2,"y":0.84},{"x":2.25,"y":0.81},{"x":2.4,"y":0.8},{"x":2.45,"y":0.77},{"x":2.6,"y":0.755},{"x":2.65,"y":0.725},{"x":2.8,"y":0.715},{"x":2.85,"y":0.685},{"x":3.0,"y":0.665},{"x":3.05,"y":0.635},{"x":3.2,"y":0.61},{"x":3.25,"y":0.58},{"x":3.31,"y":0.525},{"x":3.53,"y":0.468},{"x":3.67,"y":0.44},{"x":3.81,"y":0.405},{"x":3.91,"y":0.327},{"x":4.07,"y":0.288},{"x":-1.2,"y":0.917},{"x":-0.34,"y":0.959},{"x":2.5,"y":0.497},{"x":2.17,"y":0.662},{"x":3.17,"y":0.334},{"x":3.81,"y":0.292},{"x":3.4,"y":0.55},{"x":3.6,"y":0.5}],
    "f_k": [{"x":-6.3,"y":0.55},{"x":-5.72,"y":0.66},{"x":-5.39,"y":0.718},{"x":-5.19,"y":0.758},{"x":-5.3,"y":0.74},{"x":-5.1,"y":0.78},{"x":-5.0,"y":0.805},{"x":-4.9,"y":0.795},{"x":-4.8,"y":0.83},{"x":-4.7,"y":0.816},{"x":-4.6,"y":0.85},{"x":-4.5,"y":0.833},{"x":-4.4,"y":0.863},{"x":-4.3,"y":0.845},{"x":-4.2,"y":0.874},{"x":-4.1,"y":0.856},{"x":-4.0,"y":0.885},{"x":-3.9,"y":0.867},{"x":-3.8,"y":0.896},{"x":-3.7,"y":0.877},{"x":-3.6,"y":0.906},{"x":-3.5,"y":0.887},{"x":-3.4,"y":0.915},{"x":-3.3,"y":0.896},{"x":-3.2,"y":0.924},{"x":-3.1,"y":0.904},{"x":-3.0,"y":0.932},{"x":-2.9,"y":0.912},{"x":-2.8,"y":0.94},{"x":-2.7,"y":0.92},{"x":-2.6,"y":0.947},{"x":-2.5,"y":0.926},{"x":-2.4,"y":0.954},{"x":-2.3,"y":0.933},{"x":-2.2,"y":0.96},{"x":-2.1,"y":0.939},{"x":-2.0,"y":0.965},{"x":-1.9,"y":0.943},{"x":-1.8,"y":0.969},{"x":-1.7,"y":0.947},{"x":-1.6,"y":0.973},{"x":-1.5,"y":0.951},{"x":-1.4,"y":0.976},{"x":-1.3,"y":0.954},{"x":-1.2,"y":0.979},{"x":-1.1,"y":0.956},{"x":-1.0,"y":0.981},{"x":-0.9,"y":0.958},{"x":-0.8,"y":0.983},{"x":-0.7,"y":0.96},{"x":-0.6,"y":0.984},{"x":-0.5,"y":0.96},{"x":-0.4,"y":0.984},{"x":-0.3,"y":0.96},{"x":-0.2,"y":0.984},{"x":-0.1,"y":0.959},{"x":0.0,"y":0.982},{"x":0.1,"y":0.957},{"x":0.2,"y":0.98},{"x":0.3,"y":0.955},{"x":0.4,"y":0.977},{"x":0.5,"y":0.951},{"x":0.6,"y":0.973},{"x":0.7,"y":0.947},{"x":0.8,"y":0.969},{"x":0.9,"y":0.943},{"x":1.0,"y":0.964},{"x":1.1,"y":0.937},{"x":1.2,"y":0.958},{"x":1.3,"y":0.93},{"x":1.4,"y":0.95},{"x":1.5,"y":0.921},{"x":1.6,"y":0.941},{"x":1.7,"y":0.911},{"x":1.8,"y":0.93},{"x":1.9,"y":0.9},{"x":2.0,"y":0.918},{"x":2.1,"y":0.887},{"x":2.2,"y":0.905},{"x":2.3,"y":0.874},{"x":2.4,"y":0.892},{"x":2.5,"y":0.86},{"x":2.6,"y":0.877},{"x":2.7,"y":0.845},{"x":2.8,"y":0.862},{"x":2.9,"y":0.83},{"x":3.0,"y":0.847},{"x":3.1,"y":0.813},{"x":3.2,"y":0.828},{"x":3.3,"y":0.793},{"x":3.4,"y":0.807},{"x":3.5,"y":0.77},{"x":3.6,"y":0.783},{"x":3.7,"y":0.745},{"x":3.8,"y":0.757},{"x":3.9,"y":0.72},{"x":4.0,"y":0.73},{"x":4.1,"y":0.69},{"x":4.2,"y":0.7},{"x":4.3,"y":0.66},{"x":4.4,"y":0.67},{"x":4.5,"y":0.628},{"x":4.6,"y":0.637},{"x":4.74,"y":0.595},{"x":4.94,"y":0.525},{"x":5.13,"y":0.482},{"x":5.23,"y":0.454},{"x":5.46,"y":0.405},{"x":5.71,"y":0.366},{"x":5.42,"y":0.338},{"x":5.61,"y":0.306},{"x":5.81,"y":0.274},{"x":6.05,"y":0.288},{"x":6.5,"y":0.26},{"x":6.79,"y":0.246},{"x":4.96,"y":0.426},{"x":4.85,"y":0.56}],
    "f_r": [{"x":-6.3,"y":0.165},{"x":-5.72,"y":0.359},{"x":-5.52,"y":0.408},{"x":-5.39,"y":0.475},{"x":-5.35,"y":0.47},{"x":-5.19,"y":0.504},{"x":-5.1,"y":0.53},{"x":-5.0,"y":0.566},{"x":-4.9,"y":0.57},{"x":-4.8,"y":0.596},{"x":-4.7,"y":0.6},{"x":-4.6,"y":0.631},{"x":-4.5,"y":0.638},{"x":-4.4,"y":0.671},{"x":-4.3,"y":0.674},{"x":-4.2,"y":0.703},{"x":-4.1,"y":0.706},{"x":-4.0,"y":0.733},{"x":-3.9,"y":0.738},{"x":-3.8,"y":0.766},{"x":-3.7,"y":0.768},{"x":-3.6,"y":0.794},{"x":-3.5,"y":0.796},{"x":-3.4,"y":0.821},{"x":-3.3,"y":0.822},{"x":-3.2,"y":0.844},{"x":-3.1,"y":0.845},{"x":-3.0,"y":0.866},{"x":-2.9,"y":0.865},{"x":-2.8,"y":0.886},{"x":-2.7,"y":0.885},{"x":-2.6,"y":0.904},{"x":-2.5,"y":0.902},{"x":-2.4,"y":0.919},{"x":-2.3,"y":0.917},{"x":-2.2,"y":0.934},{"x":-2.1,"y":0.935},{"x":-2.0,"y":0.951},{"x":-1.9,"y":0.95},{"x":-1.8,"y":0.966},{"x":-1.7,"y":0.965},{"x":-1.6,"y":0.978},{"x":-1.5,"y":0.977},{"x":-1.4,"y":0.989},{"x":-1.3,"y":0.986},{"x":-1.2,"y":0.997},{"x":-1.1,"y":0.994},{"x":-1.0,"y":1.003},{"x":-0.9,"y":1.0},{"x":-0.8,"y":1.008},{"x":-0.7,"y":1.005},{"x":-0.6,"y":1.011},{"x":-0.5,"y":1.008},{"x":-0.4,"y":1.013},{"x":-0.3,"y":1.01},{"x":-0.2,"y":1.014},{"x":-0.1,"y":1.011},{"x":0.0,"y":1.014},{"x":0.1,"y":1.01},{"x":0.2,"y":1.013},{"x":0.3,"y":1.009},{"x":0.4,"y":1.011},{"x":0.5,"y":1.006},{"x":0.6,"y":1.007},{"x":0.7,"y":1.002},{"x":0.8,"y":1.002},{"x":0.9,"y":0.997},{"x":1.0,"y":0.996},{"x":1.1,"y":0.99},{"x":1.2,"y":0.989},{"x":1.3,"y":0.983},{"x":1.4,"y":0.981},{"x":1.5,"y":0.974},{"x":1.6,"y":0.971},{"x":1.7,"y":0.963},{"x":1.8,"y":0.959},{"x":1.9,"y":0.951},{"x":2.0,"y":0.946},{"x":2.1,"y":0.938},{"x":2.2,"y":0.932},{"x":2.3,"y":0.924},{"x":2.4,"y":0.918},{"x":2.5,"y":0.908},{"x":2.6,"y":0.901},{"x":2.7,"y":0.89},{"x":2.8,"y":0.882},{"x":2.9,"y":0.871},{"x":3.0,"y":0.862},{"x":3.1,"y":0.85},{"x":3.2,"y":0.84},{"x":3.3,"y":0.829},{"x":3.4,"y":0.818},{"x":3.5,"y":0.806},{"x":3.6,"y":0.796},{"x":3.7,"y":0.782},{"x":3.8,"y":0.771},{"x":3.9,"y":0.752},{"x":4.0,"y":0.736},{"x":-4.8,"y":0.582},{"x":-4.4,"y":0.657},{"x":-4.0,"y":0.72},{"x":-3.6,"y":0.78},{"x":-3.2,"y":0.83},{"x":-2.8,"y":0.872},{"x":-2.4,"y":0.905},{"x":-2.0,"y":0.937},{"x":-1.6,"y":0.962},{"x":-1.2,"y":0.983},{"x":-0.8,"y":0.994},{"x":-0.4,"y":0.999},{"x":0.0,"y":1.0},{"x":0.4,"y":0.997},{"x":0.8,"y":0.988},{"x":1.2,"y":0.975},{"x":1.6,"y":0.957},{"x":2.0,"y":0.932},{"x":2.4,"y":0.904},{"x":2.8,"y":0.868},{"x":3.2,"y":0.826},{"x":3.6,"y":0.782},{"x":4.25,"y":0.698},{"x":4.55,"y":0.666},{"x":4.74,"y":0.624},{"x":5.03,"y":0.588},{"x":5.33,"y":0.56},{"x":5.61,"y":0.525},{"x":5.81,"y":0.482},{"x":6.11,"y":0.493},{"x":6.46,"y":0.447},{"x":6.79,"y":0.426},{"x":6.01,"y":0.398},{"x":5.42,"y":0.525},{"x":4.4,"y":0.68},{"x":4.1,"y":0.72}]
  },
  "concat": [
    {
      "width": 729.5, "height": 656,
      "layer": [
        {"data": {"name": "a_k"}, "mark": {"type": "square", "size": 20, "color": "black", "opacity": 1},
         "encoding": {
           "x": {"field": "x", "type": "quantitative", "scale": {"domain": [-6, 5], "nice": false, "zero": false},
                 "axis": {"orient": "bottom", "values": [-6,-5,-4,-3,-2,-1,0,1,2,3,4,5], "tickSize": {"condition": {"test": "datum.value % 2 === 0", "value": -41}, "value": -23}, "labels": false, "title": null}},
           "y": {"field": "y", "type": "quantitative", "scale": {"domain": [0, 10], "nice": false, "zero": false},
                 "axis": {"orient": "left", "values": [0,1,2,3,4,5,6,7,8,9,10], "tickSize": {"condition": {"test": "datum.value % 2 === 0", "value": -41}, "value": -23}, "labelExpr": "datum.value % 2 === 0 ? '' + datum.value : ''", "labelPadding": 59.5, "title": null}}}},
        {"data": {"name": "a_r"}, "mark": {"type": "square", "size": 20, "color": "red", "opacity": 1},
         "encoding": {
           "x": {"field": "x", "type": "quantitative", "scale": {"domain": [-6, 5], "nice": false, "zero": false},
                 "axis": {"orient": "top", "values": [-6,-5,-4,-3,-2,-1,0,1,2,3,4,5], "tickSize": {"condition": {"test": "datum.value % 2 === 0", "value": -41}, "value": -23}, "labels": false, "title": null}},
           "y": {"field": "y", "type": "quantitative", "scale": {"domain": [0, 10], "nice": false, "zero": false},
                 "axis": {"orient": "right", "values": [0,1,2,3,4,5,6,7,8,9,10], "tickSize": {"condition": {"test": "datum.value % 2 === 0", "value": -41}, "value": -23}, "labels": false, "title": null}}}},
        {"data": {"values": [{}]}, "mark": {"type": "text", "font": "Liberation Serif, Times New Roman, serif", "fontSize": 96, "color": "black", "align": "center", "baseline": "middle"},
         "encoding": {"x": {"datum": -0.25, "type": "quantitative", "axis": null}, "y": {"datum": 1.6, "type": "quantitative", "axis": null}, "text": {"value": "(a)"}}},
        {"data": {"values": [{}]}, "mark": {"type": "text", "font": "Liberation Serif, Times New Roman, serif", "fontSize": 84, "fontStyle": "italic", "color": "black", "angle": 270, "align": "left", "baseline": "alphabetic"},
         "encoding": {"x": {"datum": -8.19, "type": "quantitative", "axis": null}, "y": {"datum": 4.23, "type": "quantitative", "axis": null}, "text": {"value": "S"}}},
        {"data": {"values": [{}]}, "mark": {"type": "text", "font": "Liberation Serif, Times New Roman, serif", "fontSize": 60, "fontStyle": "italic", "color": "black", "angle": 270, "align": "left", "baseline": "alphabetic"},
         "encoding": {"x": {"datum": -7.66, "type": "quantitative", "axis": null}, "y": {"datum": 4.87, "type": "quantitative", "axis": null}, "text": {"value": "Sh"}}}
      ],
      "resolve": {"axis": {"x": "independent", "y": "independent"}}
    },
    {
      "width": 729.5, "height": 656,
      "layer": [
        {"data": {"name": "b_k"}, "mark": {"type": "square", "size": 20, "color": "black", "opacity": 1},
         "encoding": {
           "x": {"field": "x", "type": "quantitative", "scale": {"domain": [-6, 5], "nice": false, "zero": false},
                 "axis": {"orient": "bottom", "values": [-6,-5,-4,-3,-2,-1,0,1,2,3,4,5], "tickSize": {"condition": {"test": "datum.value % 2 === 0", "value": -41}, "value": -23}, "labels": false, "title": null}},
           "y": {"field": "y", "type": "quantitative", "scale": {"domain": [0, 10], "nice": false, "zero": false},
                 "axis": {"orient": "left", "values": [0,1,2,3,4,5,6,7,8,9,10], "tickSize": {"condition": {"test": "datum.value % 2 === 0", "value": -41}, "value": -23}, "labels": false, "title": null}}}},
        {"data": {"name": "b_r"}, "mark": {"type": "square", "size": 20, "color": "red", "opacity": 1},
         "encoding": {
           "x": {"field": "x", "type": "quantitative", "scale": {"domain": [-6, 5], "nice": false, "zero": false},
                 "axis": {"orient": "top", "values": [-6,-5,-4,-3,-2,-1,0,1,2,3,4,5], "tickSize": {"condition": {"test": "datum.value % 2 === 0", "value": -41}, "value": -23}, "labels": false, "title": null}},
           "y": {"field": "y", "type": "quantitative", "scale": {"domain": [0, 10], "nice": false, "zero": false},
                 "axis": {"orient": "right", "values": [0,1,2,3,4,5,6,7,8,9,10], "tickSize": {"condition": {"test": "datum.value % 2 === 0", "value": -41}, "value": -23}, "labels": false, "title": null}}}},
        {"data": {"values": [{}]}, "mark": {"type": "text", "font": "Liberation Serif, Times New Roman, serif", "fontSize": 96, "color": "black", "align": "center", "baseline": "middle"},
         "encoding": {"x": {"datum": -0.27, "type": "quantitative", "axis": null}, "y": {"datum": 1.6, "type": "quantitative", "axis": null}, "text": {"value": "(b)"}}}
      ],
      "resolve": {"axis": {"x": "independent", "y": "independent"}}
    },
    {
      "width": 729.5, "height": 656,
      "layer": [
        {"data": {"name": "c_k"}, "mark": {"type": "square", "size": 20, "color": "black", "opacity": 1},
         "encoding": {
           "x": {"field": "x", "type": "quantitative", "scale": {"domain": [-7, 8], "nice": false, "zero": false},
                 "axis": {"orient": "bottom", "values": [-7,-6,-5,-4,-3,-2,-1,0,1,2,3,4,5,6,7,8], "tickSize": {"condition": {"test": "datum.value % 2 === 0", "value": -41}, "value": -23}, "labels": false, "title": null}},
           "y": {"field": "y", "type": "quantitative", "scale": {"domain": [0, 10], "nice": false, "zero": false},
                 "axis": {"orient": "left", "values": [0,1,2,3,4,5,6,7,8,9,10], "tickSize": {"condition": {"test": "datum.value % 2 === 0", "value": -41}, "value": -23}, "labels": false, "title": null}}}},
        {"data": {"name": "c_r"}, "mark": {"type": "square", "size": 20, "color": "red", "opacity": 1},
         "encoding": {
           "x": {"field": "x", "type": "quantitative", "scale": {"domain": [-7, 8], "nice": false, "zero": false},
                 "axis": {"orient": "top", "values": [-7,-6,-5,-4,-3,-2,-1,0,1,2,3,4,5,6,7,8], "tickSize": {"condition": {"test": "datum.value % 2 === 0", "value": -41}, "value": -23}, "labels": false, "title": null}},
           "y": {"field": "y", "type": "quantitative", "scale": {"domain": [0, 10], "nice": false, "zero": false},
                 "axis": {"orient": "right", "values": [0,1,2,3,4,5,6,7,8,9,10], "tickSize": {"condition": {"test": "datum.value % 2 === 0", "value": -41}, "value": -23}, "labels": false, "title": null}}}},
        {"data": {"values": [{}]}, "mark": {"type": "text", "font": "Liberation Serif, Times New Roman, serif", "fontSize": 96, "color": "black", "align": "center", "baseline": "middle"},
         "encoding": {"x": {"datum": 0.0, "type": "quantitative", "axis": null}, "y": {"datum": 1.6, "type": "quantitative", "axis": null}, "text": {"value": "(c)"}}}
      ],
      "resolve": {"axis": {"x": "independent", "y": "independent"}}
    },
    {
      "width": 729.5, "height": 656,
      "layer": [
        {"data": {"name": "d_k"}, "mark": {"type": "square", "size": 20, "color": "black", "opacity": 1},
         "encoding": {
           "x": {"field": "x", "type": "quantitative", "scale": {"domain": [-6, 5], "nice": false, "zero": false},
                 "axis": {"orient": "bottom", "values": [-6,-5,-4,-3,-2,-1,0,1,2,3,4,5], "tickSize": {"condition": {"test": "datum.value % 2 === 0", "value": -41}, "value": -23}, "labelExpr": "datum.value % 2 === 0 ? '' + datum.value : ''", "labelPadding": 53, "title": "E", "titlePadding": -25}},
           "y": {"field": "y", "type": "quantitative", "scale": {"domain": [0, 1.1], "nice": false, "zero": false},
                 "axis": {"orient": "left", "values": [0,0.1,0.2,0.3,0.4,0.5,0.6,0.7,0.8,0.9,1,1.1], "tickSize": {"condition": {"test": "round(datum.value*10) % 2 === 0", "value": -41}, "value": -23}, "labelExpr": "round(datum.value*10) % 2 === 0 ? '' + datum.value : ''", "labelPadding": 59.5, "title": null}}}},
        {"data": {"name": "d_r"}, "mark": {"type": "square", "size": 20, "color": "red", "opacity": 1},
         "encoding": {
           "x": {"field": "x", "type": "quantitative", "scale": {"domain": [-6, 5], "nice": false, "zero": false},
                 "axis": {"orient": "top", "values": [-6,-5,-4,-3,-2,-1,0,1,2,3,4,5], "tickSize": {"condition": {"test": "datum.value % 2 === 0", "value": -41}, "value": -23}, "labels": false, "title": null}},
           "y": {"field": "y", "type": "quantitative", "scale": {"domain": [0, 1.1], "nice": false, "zero": false},
                 "axis": {"orient": "right", "values": [0,0.1,0.2,0.3,0.4,0.5,0.6,0.7,0.8,0.9,1,1.1], "tickSize": {"condition": {"test": "round(datum.value*10) % 2 === 0", "value": -41}, "value": -23}, "labels": false, "title": null}}}},
        {"data": {"values": [{}]}, "mark": {"type": "text", "font": "Liberation Serif, Times New Roman, serif", "fontSize": 96, "color": "black", "align": "center", "baseline": "middle"},
         "encoding": {"x": {"datum": -0.27, "type": "quantitative", "axis": null}, "y": {"datum": 0.195, "type": "quantitative", "axis": null}, "text": {"value": "(d)"}}},
        {"data": {"values": [{}]}, "mark": {"type": "text", "font": "Liberation Serif, Times New Roman, serif", "fontSize": 84, "fontStyle": "italic", "color": "black", "angle": 270, "align": "left", "baseline": "alphabetic"},
         "encoding": {"x": {"datum": -8.48, "type": "quantitative", "axis": null}, "y": {"datum": 0.2454, "type": "quantitative", "axis": null}, "text": {"value": "S"}}},
        {"data": {"values": [{}]}, "mark": {"type": "text", "font": "Liberation Serif, Times New Roman, serif", "fontSize": 60, "fontStyle": "italic", "color": "black", "angle": 270, "align": "left", "baseline": "alphabetic"},
         "encoding": {"x": {"datum": -7.98, "type": "quantitative", "axis": null}, "y": {"datum": 0.3158, "type": "quantitative", "axis": null}, "text": {"value": "Sh,vN"}}},
        {"data": {"values": [{}]}, "mark": {"type": "text", "font": "Liberation Serif, Times New Roman, serif", "fontSize": 84, "fontStyle": "italic", "color": "black", "angle": 270, "align": "left", "baseline": "alphabetic"},
         "encoding": {"x": {"datum": -8.48, "type": "quantitative", "axis": null}, "y": {"datum": 0.5538, "type": "quantitative", "axis": null}, "text": {"value": "/S"}}},
        {"data": {"values": [{}]}, "mark": {"type": "text", "font": "Liberation Serif, Times New Roman, serif", "fontSize": 60, "fontStyle": "italic", "color": "black", "angle": 270, "align": "left", "baseline": "alphabetic"},
         "encoding": {"x": {"datum": -7.98, "type": "quantitative", "axis": null}, "y": {"datum": 0.6628, "type": "quantitative", "axis": null}, "text": {"value": "GOE"}}}
      ],
      "resolve": {"axis": {"x": "independent", "y": "independent"}}
    },
    {
      "width": 729.5, "height": 656,
      "layer": [
        {"data": {"name": "e_k"}, "mark": {"type": "square", "size": 20, "color": "black", "opacity": 1},
         "encoding": {
           "x": {"field": "x", "type": "quantitative", "scale": {"domain": [-6, 5], "nice": false, "zero": false},
                 "axis": {"orient": "bottom", "values": [-6,-5,-4,-3,-2,-1,0,1,2,3,4,5], "tickSize": {"condition": {"test": "datum.value % 2 === 0", "value": -41}, "value": -23}, "labelExpr": "datum.value % 2 === 0 ? '' + datum.value : ''", "labelPadding": 53, "title": "E", "titlePadding": -25}},
           "y": {"field": "y", "type": "quantitative", "scale": {"domain": [0, 1.1], "nice": false, "zero": false},
                 "axis": {"orient": "left", "values": [0,0.1,0.2,0.3,0.4,0.5,0.6,0.7,0.8,0.9,1,1.1], "tickSize": {"condition": {"test": "round(datum.value*10) % 2 === 0", "value": -41}, "value": -23}, "labels": false, "title": null}}}},
        {"data": {"name": "e_r"}, "mark": {"type": "square", "size": 20, "color": "red", "opacity": 1},
         "encoding": {
           "x": {"field": "x", "type": "quantitative", "scale": {"domain": [-6, 5], "nice": false, "zero": false},
                 "axis": {"orient": "top", "values": [-6,-5,-4,-3,-2,-1,0,1,2,3,4,5], "tickSize": {"condition": {"test": "datum.value % 2 === 0", "value": -41}, "value": -23}, "labels": false, "title": null}},
           "y": {"field": "y", "type": "quantitative", "scale": {"domain": [0, 1.1], "nice": false, "zero": false},
                 "axis": {"orient": "right", "values": [0,0.1,0.2,0.3,0.4,0.5,0.6,0.7,0.8,0.9,1,1.1], "tickSize": {"condition": {"test": "round(datum.value*10) % 2 === 0", "value": -41}, "value": -23}, "labels": false, "title": null}}}},
        {"data": {"values": [{}]}, "mark": {"type": "text", "font": "Liberation Serif, Times New Roman, serif", "fontSize": 96, "color": "black", "align": "center", "baseline": "middle"},
         "encoding": {"x": {"datum": -0.31, "type": "quantitative", "axis": null}, "y": {"datum": 0.195, "type": "quantitative", "axis": null}, "text": {"value": "(e)"}}}
      ],
      "resolve": {"axis": {"x": "independent", "y": "independent"}}
    },
    {
      "width": 729.5, "height": 656,
      "layer": [
        {"data": {"name": "f_k"}, "mark": {"type": "square", "size": 20, "color": "black", "opacity": 1},
         "encoding": {
           "x": {"field": "x", "type": "quantitative", "scale": {"domain": [-7, 8], "nice": false, "zero": false},
                 "axis": {"orient": "bottom", "values": [-7,-6,-5,-4,-3,-2,-1,0,1,2,3,4,5,6,7,8], "tickSize": {"condition": {"test": "datum.value % 2 === 0", "value": -41}, "value": -23}, "labelExpr": "datum.value % 2 === 0 ? '' + datum.value : ''", "labelPadding": 53, "title": "E", "titlePadding": -25}},
           "y": {"field": "y", "type": "quantitative", "scale": {"domain": [0, 1.1], "nice": false, "zero": false},
                 "axis": {"orient": "left", "values": [0,0.1,0.2,0.3,0.4,0.5,0.6,0.7,0.8,0.9,1,1.1], "tickSize": {"condition": {"test": "round(datum.value*10) % 2 === 0", "value": -41}, "value": -23}, "labels": false, "title": null}}}},
        {"data": {"name": "f_r"}, "mark": {"type": "square", "size": 20, "color": "red", "opacity": 1},
         "encoding": {
           "x": {"field": "x", "type": "quantitative", "scale": {"domain": [-7, 8], "nice": false, "zero": false},
                 "axis": {"orient": "top", "values": [-7,-6,-5,-4,-3,-2,-1,0,1,2,3,4,5,6,7,8], "tickSize": {"condition": {"test": "datum.value % 2 === 0", "value": -41}, "value": -23}, "labels": false, "title": null}},
           "y": {"field": "y", "type": "quantitative", "scale": {"domain": [0, 1.1], "nice": false, "zero": false},
                 "axis": {"orient": "right", "values": [0,0.1,0.2,0.3,0.4,0.5,0.6,0.7,0.8,0.9,1,1.1], "tickSize": {"condition": {"test": "round(datum.value*10) % 2 === 0", "value": -41}, "value": -23}, "labels": false, "title": null}}}},
        {"data": {"values": [{}]}, "mark": {"type": "text", "font": "Liberation Serif, Times New Roman, serif", "fontSize": 96, "color": "black", "align": "center", "baseline": "middle"},
         "encoding": {"x": {"datum": 0.55, "type": "quantitative", "axis": null}, "y": {"datum": 0.195, "type": "quantitative", "axis": null}, "text": {"value": "(f)"}}}
      ],
      "resolve": {"axis": {"x": "independent", "y": "independent"}}
    }
  ],
  "config": {
    "font": "Liberation Serif, Times New Roman, serif",
    "view": {"stroke": "black", "strokeWidth": 9},
    "axis": {
      "domain": false, "grid": false,
      "tickColor": "black", "tickWidth": 8,
      "labelFont": "Liberation Serif, Times New Roman, serif", "labelFontSize": 74, "labelColor": "black",
      "labelFlush": false, "labelOverlap": false,
      "titleFont": "Liberation Serif, Times New Roman, serif", "titleFontSize": 80, "titleFontStyle": "italic", "titleFontWeight": "normal", "titleColor": "black"
    }
  }
}
